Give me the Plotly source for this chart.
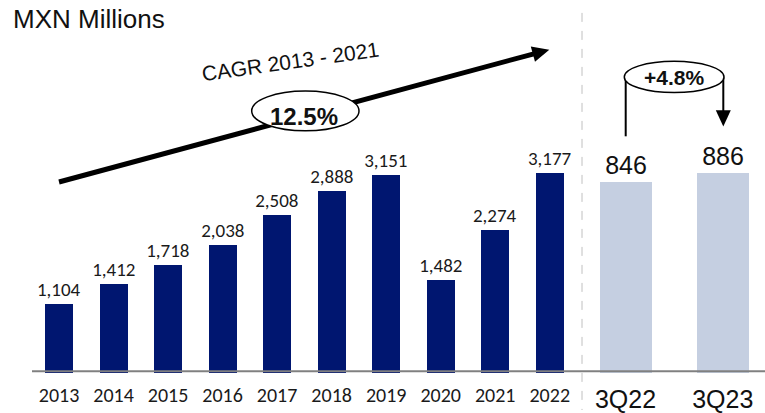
import plotly.graph_objects as go

W, H = 765, 413

# ---- data ----
years = ["2013", "2014", "2015", "2016", "2017", "2018", "2019", "2020", "2021", "2022"]
annual_values = [1104, 1412, 1718, 2038, 2508, 2888, 3151, 1482, 2274, 3177]
annual_labels = ["1,104", "1,412", "1,718", "2,038", "2,508", "2,888", "3,151", "1,482", "2,274", "3,177"]
quarters = ["3Q22", "3Q23"]
quarter_values = [846, 886]
quarter_labels = ["846", "886"]
unit_title = "MXN Millions"
cagr_text = "CAGR 2013 - 2021"
cagr_value = "12.5%"
growth_value = "+4.8%"

NAVY = "#001670"
LIGHT = "#C5CFE1"


def px(x):
    return x / W


def py(y):
    return 1 - y / H


base_y = 375.7  # pixel row of value zero
left_scale = 0.06339   # px per unit
right_scale = 0.2272  # px per unit

fig = go.Figure()
fig.add_trace(go.Bar(
    x=years, y=annual_values, text=annual_labels, textposition="outside",
    constraintext="none",
    textfont=dict(family="Carlito, Lato, sans-serif", size=19, color="#1a1a1a"),
    marker=dict(color=NAVY, line=dict(width=0)), width=0.514,
    cliponaxis=False, xaxis="x", yaxis="y", hoverinfo="skip",
))
fig.add_trace(go.Bar(
    x=quarters, y=quarter_values, text=quarter_labels, textposition="outside",
    constraintext="none",
    textfont=dict(family="Liberation Sans, Arial, sans-serif", size=25, color="#111111"),
    marker=dict(color=LIGHT, line=dict(width=0)), width=0.535,
    cliponaxis=False, xaxis="x2", yaxis="y2", hoverinfo="skip",
))

ydom = [(H - base_y) / H, 1]
fig.update_layout(
    width=W, height=H, margin=dict(l=0, r=0, t=0, b=0),
    paper_bgcolor="white", plot_bgcolor="white", showlegend=False,
    xaxis=dict(domain=[px(31.75), px(577)], range=[-0.5, 9.5], type="category",
               showline=False, showgrid=False, zeroline=False, ticks="",
               tickfont=dict(family="Carlito, Lato, sans-serif", size=20, color="#1a1a1a"),
               ticklabelstandoff=8, anchor="y"),
    yaxis=dict(domain=ydom, range=[0, base_y / left_scale], visible=False, anchor="x"),
    xaxis2=dict(domain=[px(577), 1], range=[-0.499, 1.435], type="category",
                showline=False, showgrid=False, zeroline=False, ticks="",
                tickfont=dict(family="Liberation Sans, Arial, sans-serif", size=25, color="#111111"),
                ticklabelstandoff=9, anchor="y2"),
    yaxis2=dict(domain=ydom, range=[0, base_y / right_scale], visible=False, anchor="x2"),
    bargap=0,
)

shapes = []
# baseline axis
shapes.append(dict(type="line", xref="paper", yref="paper", x0=px(32), x1=1, y0=py(374), y1=py(374),
                   line=dict(color="#808080", width=2), layer="above"))
# dashed separator
shapes.append(dict(type="line", xref="paper", yref="paper", x0=px(582), x1=px(582), y0=py(13), y1=0,
                   line=dict(color="#C0C0C0", width=1, dash="dash"), layer="above"))

# CAGR arrow
sx, sy = 59, 183.3
tx, ty = 549.3, 50
dx, dy = tx - sx, ty - sy
L = (dx ** 2 + dy ** 2) ** 0.5
ux, uy = dx / L, dy / L
nx, ny = -uy, ux
hl, hw = 17, 8
bx, by = tx - hl * ux, ty - hl * uy
shapes.append(dict(type="line", xref="paper", yref="paper", x0=px(sx), y0=py(sy), x1=px(bx + ux), y1=py(by + uy),
                   line=dict(color="black", width=5), layer="above"))
tri = "M {} {} L {} {} L {} {} Z".format(px(tx), py(ty), px(bx + hw * nx), py(by + hw * ny),
                                          px(bx - hw * nx), py(by - hw * ny))
shapes.append(dict(type="path", xref="paper", yref="paper", path=tri, fillcolor="black",
                   line=dict(color="black", width=0), layer="above"))
# CAGR ellipse
shapes.append(dict(type="circle", xref="paper", yref="paper", x0=px(251.7), x1=px(359), y0=py(91.7), y1=py(131.7),
                   fillcolor="white", line=dict(color="black", width=1.5), layer="above"))

# growth bracket
lx, rx_ = 625.7, 723.3
shapes.append(dict(type="line", xref="paper", yref="paper", x0=px(lx), x1=px(lx), y0=py(137.3), y1=py(78),
                   line=dict(color="black", width=2), layer="above"))
shapes.append(dict(type="line", xref="paper", yref="paper", x0=px(rx_), x1=px(rx_), y0=py(78), y1=py(112),
                   line=dict(color="black", width=2), layer="above"))
tri2 = "M {} {} L {} {} L {} {} Z".format(px(rx_), py(127.5), px(rx_ - 7.5), py(111), px(rx_ + 7.5), py(111))
shapes.append(dict(type="path", xref="paper", yref="paper", path=tri2, fillcolor="black",
                   line=dict(color="black", width=0), layer="above"))
shapes.append(dict(type="circle", xref="paper", yref="paper", x0=px(624.3), x1=px(724), y0=py(61.7), y1=py(93.3),
                   fillcolor="white", line=dict(color="black", width=1.5), layer="above"))
fig.update_layout(shapes=shapes)

annotations = [
    dict(text=unit_title, x=px(11), y=py(19), xanchor="left", yanchor="middle",
         font=dict(family="Liberation Sans, Arial, sans-serif", size=26, color="#111111")),
    dict(text=cagr_text, x=px(290), y=py(62), xanchor="center", yanchor="middle", textangle=-8,
         font=dict(family="Liberation Sans, Arial, sans-serif", size=21, color="#111111")),
    dict(text="<b>" + cagr_value + "</b>", x=px(304), y=py(117), xanchor="center", yanchor="middle",
         font=dict(family="Liberation Sans, Arial, sans-serif", size=24, color="#111111")),
    dict(text="<b>" + growth_value + "</b>", x=px(674.3), y=py(78.5), xanchor="center", yanchor="middle",
         font=dict(family="Liberation Sans, Arial, sans-serif", size=21, color="#111111")),
]
for a in annotations:
    a.update(xref="paper", yref="paper", showarrow=False)
fig.update_layout(annotations=annotations)

fig.write_html("out.html", config={"displayModeBar": False},
               post_script="document.body.style.margin='0';document.body.style.overflow='hidden';")
